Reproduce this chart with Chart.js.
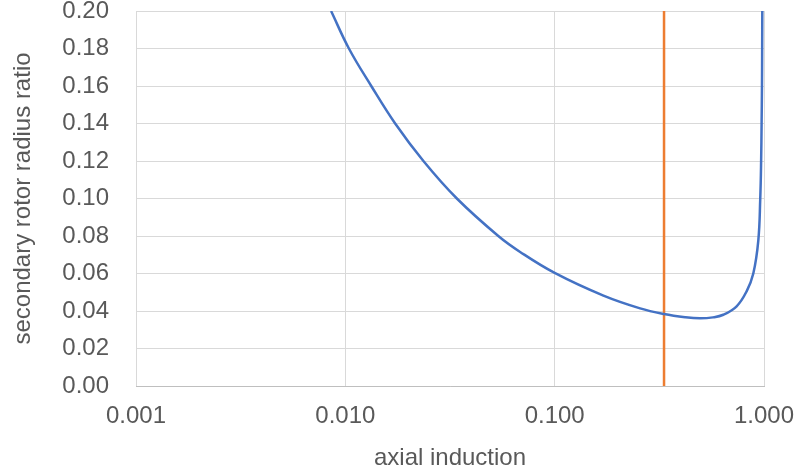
<!DOCTYPE html>
<html>
<head>
<meta charset="utf-8">
<script src="https://cdn.jsdelivr.net/npm/chart.js@4/dist/chart.umd.min.js"></script>
<style>
  html, body { margin: 0; padding: 0; background: #fff; }
  #wrap { width: 795px; height: 476px; }
</style>
</head>
<body>
<div id="wrap"><canvas id="chart"></canvas></div>
<script>
// curve: axial induction vs secondary rotor radius ratio
const axialInduction = [0.00855, 0.0104, 0.0133, 0.0173, 0.0236, 0.0341, 0.0538, 0.0684, 0.100, 0.171,
  0.256, 0.333, 0.420, 0.4946, 0.570, 0.639, 0.740, 0.826, 0.889, 0.9395, 0.9596, 0.969, 0.974, 0.978, 0.980, 0.9815];
const radiusRatio = [0.200, 0.180, 0.160, 0.140, 0.120, 0.100, 0.080, 0.0715, 0.0603, 0.0482,
  0.0414, 0.0384, 0.0367, 0.0361, 0.0366, 0.0380, 0.0425, 0.0505, 0.060, 0.0777, 0.100, 0.120, 0.140, 0.160, 0.180, 0.200];

// vertical marker at a = 1/3
const markerX = [0.333, 0.333];
const markerY = [0, 0.2];

const xTicks = [0.001, 0.01, 0.1, 1];
const yMin = 0, yMax = 0.2, yStep = 0.02;

const textColor = '#595959';
const gridColor = '#d9d9d9';
const font = { family: "'Liberation Sans', Arial, sans-serif", size: 24 };

new Chart(document.getElementById('chart'), {
  type: 'line',
  data: {
    datasets: [
      {
        data: axialInduction.map((x, i) => ({ x, y: radiusRatio[i] })),
        borderColor: '#4472c4', borderWidth: 2.5,
        pointRadius: 0, tension: 0.4, fill: false
      },
      {
        data: markerX.map((x, i) => ({ x, y: markerY[i] })),
        borderColor: '#ed7d31', borderWidth: 2.5,
        pointRadius: 0, fill: false
      }
    ]
  },
  options: {
    responsive: true, maintainAspectRatio: false, animation: false,
    layout: { padding: { top: 11, right: 31, left: 0, bottom: 0 } },
    plugins: { legend: { display: false }, tooltip: { enabled: false } },
    scales: {
      x: {
        type: 'logarithmic', min: 0.001, max: 1,
        afterBuildTicks: s => { s.ticks = xTicks.map(v => ({ value: v })); },
        afterFit: s => { s.height = 90; s.paddingLeft = 0; s.paddingRight = 0; },
        grid: { color: gridColor, lineWidth: 1, drawTicks: false },
        border: { color: '#bfbfbf', width: 1 },
        ticks: { color: textColor, font, padding: 16, maxRotation: 0, callback: v => Number(v).toFixed(3) },
        title: { display: true, text: 'axial induction', color: textColor, font, padding: { top: 0, bottom: 3 } }
      },
      y: {
        min: yMin, max: yMax,
        afterFit: s => { s.width = 136; s.paddingTop = 0; s.paddingBottom = 0; },
        grid: { color: gridColor, lineWidth: 1, drawTicks: false },
        border: { display: false },
        ticks: { color: textColor, font, padding: 27, stepSize: yStep, callback: v => Number(v).toFixed(2) },
        title: { display: true, text: 'secondary rotor radius ratio', color: textColor, font, padding: { top: 9, bottom: 0 } }
      }
    }
  }
});
</script>
</body>
</html>
